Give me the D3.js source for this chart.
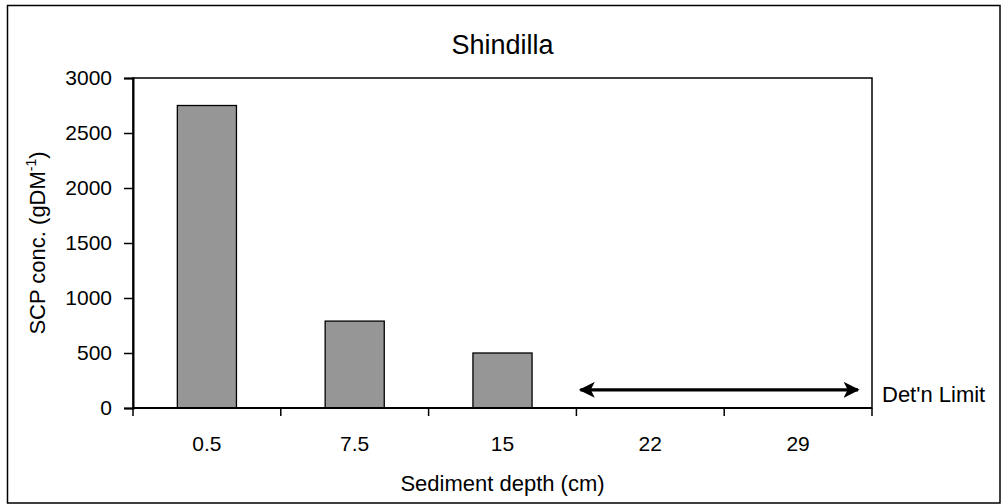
<!DOCTYPE html>
<html>
<head>
<meta charset="utf-8">
<script src="https://cdn.jsdelivr.net/npm/d3@7"></script>
<style>
  html, body { margin: 0; padding: 0; background: #fff; }
  svg { display: block; font-family: "Liberation Sans", Arial, sans-serif; }
</style>
</head>
<body>
<svg id="chart" width="1001" height="504"></svg>
<script>
// Sediment core data
const depths = ["0.5", "7.5", "15", "22", "29"];
const scpValues = [2750, 790, 500, null, null];
const yTicks = [0, 500, 1000, 1500, 2000, 2500, 3000];
const detLimit = 165;
const detLabel = "Det'n Limit";
const titleText = "Shindilla";
const xTitle = "Sediment depth (cm)";

const svg = d3.select("#chart");
const plot = { left: 133, right: 872, top: 78, bottom: 408 };
const FONT = "Liberation Sans, Arial, sans-serif";

// Outer frame
svg.append("rect")
  .attr("x", 7.5).attr("y", 5.5)
  .attr("width", 992.5).attr("height", 497.5)
  .attr("fill", "none").attr("stroke", "#000").attr("stroke-width", 1.5);

const x = d3.scaleBand().domain(depths).range([plot.left, plot.right]).paddingInner(0).paddingOuter(0);
const y = d3.scaleLinear().domain([0, 3000]).range([plot.bottom, plot.top]);

// Plot area border
svg.append("rect")
  .attr("x", plot.left).attr("y", plot.top)
  .attr("width", plot.right - plot.left).attr("height", plot.bottom - plot.top)
  .attr("fill", "none").attr("stroke", "#000").attr("stroke-width", 1.5);

// Bars
const barW = x.bandwidth() * 0.4;
svg.append("g").selectAll("rect")
  .data(depths.map((d, i) => ({ d, v: scpValues[i] })).filter(o => o.v != null))
  .join("rect")
  .attr("x", o => x(o.d) + (x.bandwidth() - barW) / 2)
  .attr("y", o => y(o.v))
  .attr("width", barW)
  .attr("height", o => y(0) - y(o.v))
  .attr("fill", "#969696")
  .attr("stroke", "#000").attr("stroke-width", 1.3);

// Y axis
const yAxis = svg.append("g")
  .attr("transform", `translate(${plot.left},0)`)
  .call(d3.axisLeft(y).tickValues(yTicks).tickSize(9).tickPadding(12).tickFormat(d3.format("d")));
yAxis.select(".domain").attr("stroke-width", 2);
yAxis.selectAll(".tick line").attr("stroke-width", 1.5);
yAxis.selectAll("text").attr("font-size", 21).attr("fill", "#000").attr("font-family", FONT);

// X axis: ticks at category boundaries, labels centred in bands
const xAxisG = svg.append("g").attr("transform", `translate(0,${plot.bottom})`);
xAxisG.append("line")
  .attr("x1", plot.left).attr("x2", plot.right)
  .attr("stroke", "#000").attr("stroke-width", 2);
const boundaries = depths.map(d => x(d)).concat([x(depths[depths.length - 1]) + x.bandwidth()]);
xAxisG.selectAll(".bt").data(boundaries).join("line")
  .attr("x1", d => d).attr("x2", d => d)
  .attr("y1", 0).attr("y2", 8)
  .attr("stroke", "#000").attr("stroke-width", 1.5);
xAxisG.selectAll(".lbl").data(depths).join("text")
  .attr("x", d => x(d) + x.bandwidth() / 2)
  .attr("y", 43)
  .attr("text-anchor", "middle")
  .attr("font-size", 21)
  .text(d => d);

// Detection limit arrow
const defs = svg.append("defs");
defs.append("marker")
  .attr("id", "arrowHead")
  .attr("viewBox", "0 0 10 10")
  .attr("refX", 9).attr("refY", 5)
  .attr("markerWidth", 4.7).attr("markerHeight", 4.7)
  .attr("markerUnits", "strokeWidth")
  .attr("orient", "auto-start-reverse")
  .append("path")
  .attr("d", "M0,0 L10,5 L0,10 L2.5,5 Z")
  .attr("fill", "#000");
const arrowX1 = x("22") + 4;
const arrowX2 = plot.right - 14;
svg.append("line")
  .attr("x1", arrowX1).attr("x2", arrowX2)
  .attr("y1", y(detLimit)).attr("y2", y(detLimit))
  .attr("stroke", "#000").attr("stroke-width", 3.4)
  .attr("marker-start", "url(#arrowHead)")
  .attr("marker-end", "url(#arrowHead)");
svg.append("text")
  .attr("x", plot.right + 10).attr("y", y(detLimit) + 12)
  .attr("font-size", 22)
  .text(detLabel);

// Title
svg.append("text")
  .attr("x", (plot.left + plot.right) / 2).attr("y", 54)
  .attr("text-anchor", "middle").attr("font-size", 27)
  .text(titleText);

// X title
svg.append("text")
  .attr("x", (plot.left + plot.right) / 2).attr("y", 491)
  .attr("text-anchor", "middle").attr("font-size", 22)
  .text(xTitle);

// Y title with superscript
const yt = svg.append("text")
  .attr("transform", `translate(45,${(plot.top + plot.bottom) / 2}) rotate(-90)`)
  .attr("text-anchor", "middle").attr("font-size", 22);
yt.append("tspan").text("SCP conc. (gDM");
yt.append("tspan").attr("font-size", 14).attr("dy", -9).text("-1");
yt.append("tspan").attr("dy", 9).text(")");
</script>
</body>
</html>
